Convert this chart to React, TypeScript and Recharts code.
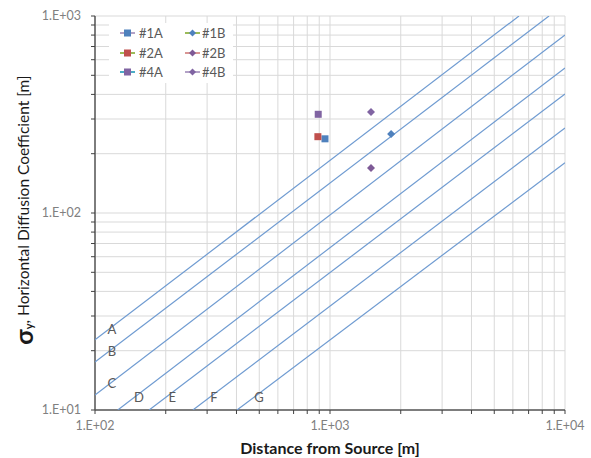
import React from 'react';
import { ScatterChart, Scatter, XAxis, YAxis, CartesianGrid } from 'recharts';

// Stability class lines (endpoints where each line meets the plot frame), [distance m, sigma_y m]
const lineA = [{ x: 100, y: 22.7 }, { x: 6370, y: 1000 }];
const lineB = [{ x: 100, y: 17.5 }, { x: 8550, y: 1000 }];
const lineC = [{ x: 100, y: 11.9 }, { x: 10000, y: 802 }];
const lineD = [{ x: 125, y: 10 }, { x: 10000, y: 545 }];
const lineE = [{ x: 170, y: 10 }, { x: 10000, y: 402 }];
const lineF = [{ x: 261, y: 10 }, { x: 10000, y: 270 }];
const lineG = [{ x: 402, y: 10 }, { x: 10000, y: 180 }];
const classLines = [lineA, lineB, lineC, lineD, lineE, lineF, lineG];

// Class labels
const classLabels = [
  { x: 118, y: 25.8, label: 'A' },
  { x: 118, y: 20, label: 'B' },
  { x: 118, y: 13.7, label: 'C' },
  { x: 154, y: 11.6, label: 'D' },
  { x: 213, y: 11.6, label: 'E' },
  { x: 321, y: 11.6, label: 'F' },
  { x: 499, y: 11.6, label: 'G' },
];

// Measured points
const s1A = [{ x: 952, y: 238 }];
const s2A = [{ x: 888, y: 244 }];
const s4A = [{ x: 891, y: 317 }];
const s1B = [{ x: 1820, y: 252 }];
const s2B = [{ x: 1494, y: 169 }];
const s4B = [{ x: 1494, y: 326 }];

const seriesNames = ['#1A', '#1B', '#2A', '#2B', '#4A', '#4B'];
const seriesData = [s1A, s1B, s2A, s2B, s4A, s4B];
const seriesShapes = ['square', 'diamond', 'square', 'diamond', 'square', 'diamond'];
const seriesFill = ['#4F81BD', '#4F81BD', '#C0504D', '#7E5A96', '#8064A2', '#8064A2'];
const seriesLegendLine = ['#B3A2C7', '#9BBB59', '#9BBB59', '#D99694', '#4BACC6', '#B3A2C7'];

const xTicks = [100, 200, 300, 400, 500, 600, 700, 800, 900, 1000, 2000, 3000, 4000, 5000, 6000, 7000, 8000, 9000, 10000];
const yTicks = [10, 20, 30, 40, 50, 60, 70, 80, 90, 100, 200, 300, 400, 500, 600, 700, 800, 900, 1000];

const FONT = 'Lato, "Open Sans", sans-serif';

const fmt = (v: number) => {
  const l = Math.log10(v);
  if (Math.abs(l - Math.round(l)) < 1e-9) {
    const e = Math.round(l);
    return `1.E+${e < 10 ? '0' + e : e}`;
  }
  return '';
};

const YTitle = (props: any) => {
  const vb = props.viewBox || { x: 0, y: 16, width: 95, height: 394 };
  const cx = 23;
  const cy = vb.y + vb.height / 2 - 3;
  return (
    <text
      x={cx}
      y={cy}
      transform={`rotate(-90, ${cx}, ${cy})`}
      textAnchor="middle"
      dominantBaseline="central"
      fontFamily={FONT}
      fill="#1A1A1A"
      fontSize={15.5}
    >
      <tspan fontSize={25} fontWeight="bold">σ</tspan>
      <tspan fontSize={11} dy={5} fontWeight="bold">y</tspan>
      <tspan dy={-5}>, Horizontal Diffusion Coefficient [m]</tspan>
    </text>
  );
};

const makeShape = (kind: string, fill: string) => (p: any) => {
  const { cx, cy } = p;
  if (cx == null || cy == null) return <g />;
  if (kind === 'square') {
    return <rect x={cx - 3.5} y={cy - 3.5} width={7} height={7} fill={fill} />;
  }
  return <path d={`M${cx} ${cy - 4} L${cx + 4} ${cy} L${cx} ${cy + 4} L${cx - 4} ${cy} Z`} fill={fill} />;
};

const LegendBox = () => (
  <div style={{ position: 'absolute', left: 109, top: 23, width: 124, height: 60, background: '#fff', fontFamily: FONT }}>
    {seriesNames.map((name, i) => {
      const col = i % 2;
      const row = Math.floor(i / 2);
      const left = col === 0 ? 11 : 76;
      const top = 2 + row * 19.5;
      return (
        <div key={name} style={{ position: 'absolute', left, top, height: 16, display: 'flex', alignItems: 'center' }}>
          <svg width={16} height={16} style={{ display: 'block' }}>
            <line x1={0} y1={8} x2={15} y2={8} stroke={seriesLegendLine[i]} strokeWidth={2} />
            {seriesShapes[i] === 'square' ? (
              <rect x={4} y={4.5} width={7} height={7} fill={seriesFill[i]} />
            ) : (
              <path d="M7.5 4.5 L11 8 L7.5 11.5 L4 8 Z" fill={seriesFill[i]} />
            )}
          </svg>
          <span style={{ fontSize: 13, color: '#595959', marginLeft: col === 0 ? 3 : 1 }}>{name}</span>
        </div>
      );
    })}
  </div>
);

export default function App() {
  return (
    <div style={{ position: 'absolute', left: 0, top: 0, width: 591, height: 458, background: '#fff' }}>
      <ScatterChart width={591} height={458} margin={{ top: 16, right: 26, left: 0, bottom: 0 }}>
        <CartesianGrid stroke="#D9D9D9" strokeWidth={1} />
        <XAxis
          dataKey="x"
          type="number"
          scale="log"
          domain={[100, 10000]}
          ticks={xTicks}
          interval={0}
          allowDataOverflow
          tickFormatter={fmt}
          height={48}
          tickSize={4}
          tickMargin={7}
          axisLine={{ stroke: '#595959', strokeWidth: 1.5 }}
          tickLine={{ stroke: '#404040' }}
          tick={{ fill: '#808080', fontSize: 12.5, fontFamily: FONT }}
          label={{ value: 'Distance from Source [m]', position: 'insideBottom', offset: 4, fontSize: 16, fontWeight: 'bold', fill: '#1A1A1A', fontFamily: FONT }}
        />
        <XAxis xAxisId="top" orientation="top" type="number" scale="log" domain={[100, 10000]} height={0} tick={false} tickLine={false} axisLine={{ stroke: '#595959', strokeWidth: 1.5 }} />
        <YAxis
          dataKey="y"
          type="number"
          scale="log"
          domain={[10, 1000]}
          ticks={yTicks}
          interval={0}
          allowDataOverflow
          tickFormatter={fmt}
          width={95}
          tickSize={4}
          tickMargin={10}
          axisLine={{ stroke: '#595959', strokeWidth: 1.5 }}
          tickLine={{ stroke: '#404040' }}
          tick={{ fill: '#808080', fontSize: 12.5, fontFamily: FONT }}
          label={<YTitle />}
        />
        <YAxis yAxisId="right" orientation="right" type="number" scale="log" domain={[10, 1000]} width={0} tick={false} tickLine={false} axisLine={{ stroke: '#595959', strokeWidth: 1.5 }} />
        {classLines.map((d, i) => (
          <Scatter
            key={'line' + i}
            data={d}
            line={{ stroke: '#6F9BD1', strokeWidth: 1.2 }}
            shape={() => <g />}
            isAnimationActive={false}
            legendType="none"
          />
        ))}
        {seriesData.map((d, i) => (
          <Scatter
            key={seriesNames[i]}
            name={seriesNames[i]}
            data={d}
            shape={makeShape(seriesShapes[i], seriesFill[i])}
            fill={seriesFill[i]}
            isAnimationActive={false}
          />
        ))}
        <Scatter
          data={classLabels}
          isAnimationActive={false}
          legendType="none"
          shape={(p: any) => (
            <text x={p.cx} y={p.cy} textAnchor="middle" dominantBaseline="central" fontSize={13} fill="#595959" fontFamily={FONT}>
              {p.payload.label}
            </text>
          )}
        />
      </ScatterChart>
      <LegendBox />
    </div>
  );
}
